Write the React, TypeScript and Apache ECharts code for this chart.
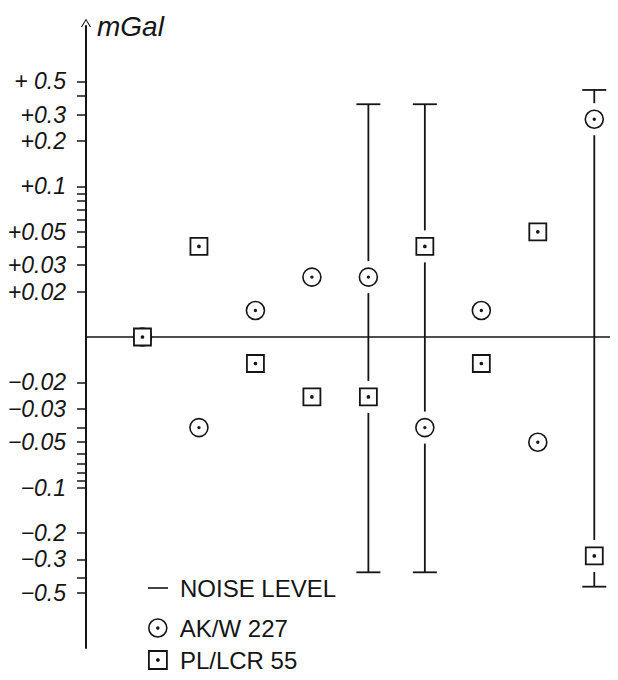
import React, { useEffect, useRef } from "react";
import * as echarts from "echarts";

// station positions along the profile (no labels on the x axis)
const stations = [1, 2, 3, 4, 5, 6, 7, 8, 9];
// gravity differences in mGal
const akw227 = [0, -0.04, 0.015, 0.025, 0.025, -0.04, 0.015, -0.05, 0.28];
const plLcr55 = [0, 0.04, -0.015, -0.025, -0.025, 0.04, -0.015, 0.05, -0.285];
// noise level bars
const noiseStations = [5, 6, 9];
const noiseLow = [-0.366, -0.366, -0.456];
const noiseHigh = [0.352, 0.352, 0.438];
// axis ticks and labels
const labelValues = [0.5, 0.3, 0.2, 0.1, 0.05, 0.03, 0.02, -0.02, -0.03, -0.05, -0.1, -0.2, -0.3, -0.5];
const labelTexts = ["+ 0.5", "+0.3", "+0.2", "+0.1", "+0.05", "+0.03", "+0.02", "\u22120.02", "\u22120.03", "\u22120.05", "\u22120.1", "\u22120.2", "\u22120.3", "\u22120.5"];
const tickMagnitudes = [0.02, 0.03, 0.04, 0.05, 0.06, 0.07, 0.08, 0.09, 0.1, 0.2, 0.3, 0.4, 0.5];

// symmetric log transform: 0.01 mGal maps onto the zero line
const tf = (v: number) => (Math.abs(v) < 0.01 ? 0 : Math.sign(v) * Math.log10(100 * Math.abs(v)));
const T_MAX = 2.0664;

const circleSym =
  "path://M9,0 A9,9 0 1,1 9,18 A9,9 0 1,1 9,0 Z M9,8.1 A0.9,0.9 0 1,1 9,9.9 A0.9,0.9 0 1,1 9,8.1 Z";
const squareSym =
  "path://M0,0 L16,0 L16,16 L0,16 Z M8,7.1 A0.9,0.9 0 1,1 8,8.9 A0.9,0.9 0 1,1 8,7.1 Z";
const lineSym = "path://M0,0 L20,0 L20,1.6 L0,1.6 Z";

const FONT = "'Liberation Sans', Arial, sans-serif";
const INK = "#151515";

export default function App() {
  const ref = useRef<HTMLDivElement>(null);
  useEffect(() => {
    if (!ref.current) return;
    const chart = echarts.init(ref.current, null, { renderer: "svg" });
    const tickVals = [...tickMagnitudes.map((m) => tf(m)), ...tickMagnitudes.map((m) => tf(-m))];
    const labelT = labelValues.map((v) => tf(v));
    const legendText = { fontFamily: FONT, fontSize: 24, color: INK, padding: [0, 0, 0, 7], lineHeight: 30 };
    const mkLegend = (name: string, top: number, icon: string, itemStyle: any) => ({
      orient: "vertical",
      left: 148,
      top,
      padding: 0,
      selectedMode: false,
      itemWidth: 20,
      itemHeight: 18,
      textStyle: legendText,
      data: [{ name, icon, itemStyle }],
    });
    chart.setOption({
      animation: false,
      backgroundColor: "#fff",
      grid: { left: 86, right: 0, top: 26, bottom: 32, containLabel: false, outerBoundsMode: "none" },
      legend: [
        mkLegend("NOISE LEVEL", 573, lineSym, { color: INK, borderWidth: 0 }),
        mkLegend("AK/W 227", 613, circleSym, { color: "#fff", borderColor: INK, borderWidth: 1.6 }),
        mkLegend("PL/LCR 55", 645, squareSym, { color: "#fff", borderColor: INK, borderWidth: 1.8 }),
      ],
      xAxis: {
        type: "value",
        min: 0,
        max: 9.42,
        axisLine: { onZero: true, lineStyle: { color: INK, width: 1.5 } },
        axisTick: { show: false },
        axisLabel: { show: false },
        splitLine: { show: false },
      },
      yAxis: {
        type: "value",
        min: -T_MAX,
        max: T_MAX,
        name: "mGal",
        nameLocation: "end",
        nameGap: 0,
        nameTextStyle: {
          fontFamily: FONT,
          fontStyle: "italic",
          fontSize: 28,
          color: INK,
          align: "left",
          verticalAlign: "middle",
          padding: [0, 0, 2, 11],
        },
        axisLine: {
          show: true,
          onZero: false,
          symbol: ["none", "path://M0,0 L5,8 L4,8.6 L0,1.8 L-4,8.6 L-5,8 Z"],
          symbolSize: [10, 10],
          symbolOffset: [0, 3],
          lineStyle: { color: INK, width: 2 },
        },
        axisTick: { show: true, customValues: tickVals, length: 9, lineStyle: { color: INK, width: 1.5 } },
        axisLabel: {
          customValues: labelT,
          margin: 20,
          fontFamily: FONT,
          fontStyle: "italic",
          fontSize: 23,
          color: INK,
          formatter: (val: number) => {
            let best = 0;
            let d = Infinity;
            labelT.forEach((t, i) => {
              if (Math.abs(t - val) < d) {
                d = Math.abs(t - val);
                best = i;
              }
            });
            return labelTexts[best];
          },
        },
        splitLine: { show: false },
      },
      series: [
        {
          name: "NOISE LEVEL",
          type: "custom",
          z: 1,
          data: noiseStations.map((s, i) => [s, tf(noiseLow[i]), tf(noiseHigh[i])]),
          renderItem: (params: any, api: any) => {
            const x = api.value(0);
            const top = api.coord([x, api.value(2)]);
            const bot = api.coord([x, api.value(1)]);
            const idx = stations.indexOf(x);
            const gaps = [akw227[idx], plLcr55[idx]]
              .map((v) => api.coord([x, tf(v)])[1])
              .sort((a: number, b: number) => a - b);
            const segs: number[][] = [];
            let start = top[1];
            for (const g of gaps) {
              if (g - 16 > start) segs.push([start, g - 16]);
              start = Math.max(start, g + 16);
            }
            if (start < bot[1]) segs.push([start, bot[1]]);
            const style = { stroke: INK, lineWidth: 1.8 };
            const cx = top[0];
            const children: any[] = segs.map((s) => ({
              type: "line",
              shape: { x1: cx, y1: s[0], x2: cx, y2: s[1] },
              style,
            }));
            children.push({ type: "line", shape: { x1: cx - 12, y1: top[1], x2: cx + 12, y2: top[1] }, style });
            children.push({ type: "line", shape: { x1: cx - 12, y1: bot[1], x2: cx + 12, y2: bot[1] }, style });
            return { type: "group", children };
          },
        },
        {
          name: "AK/W 227",
          type: "scatter",
          z: 3,
          symbol: circleSym,
          symbolSize: 18,
          itemStyle: { color: "#fff", borderColor: INK, borderWidth: 1.6, opacity: 1 },
          data: stations.map((s, i) => [s, tf(akw227[i])]),
        },
        {
          name: "PL/LCR 55",
          type: "scatter",
          z: 4,
          symbol: squareSym,
          symbolSize: 17,
          itemStyle: { color: "#fff", borderColor: INK, borderWidth: 1.8, opacity: 1 },
          data: stations.map((s, i) => [s, tf(plLcr55[i])]),
        },
      ],
    });
    return () => chart.dispose();
  }, []);
  return <div ref={ref} style={{ width: 618, height: 680, margin: -8 }} />;
}
